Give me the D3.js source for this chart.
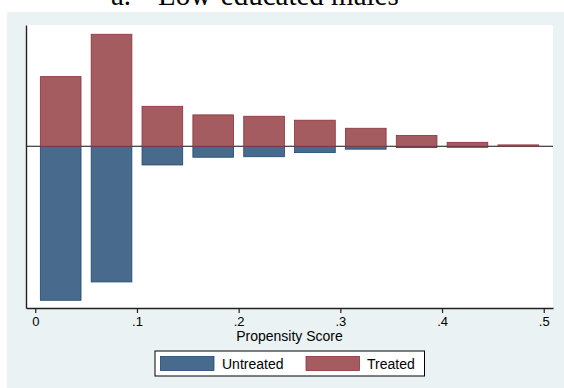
<!DOCTYPE html>
<html>
<head>
<meta charset="utf-8">
<script src="https://cdn.jsdelivr.net/npm/d3@7"></script>
<style>
  html, body { margin: 0; padding: 0; background: #ffffff; }
  svg { display: block; }
</style>
</head>
<body>
<div id="chart"></div>
<script>
// Propensity score bins (centres, width 0.05)
const binCentres = [0.025, 0.075, 0.125, 0.175, 0.225, 0.275, 0.325, 0.375, 0.425, 0.475];
// Densities per bin
const treated   = [4.06, 6.53, 2.33, 1.83, 1.75, 1.52, 1.05, 0.63, 0.23, 0.08];
const untreated = [8.98, 7.91, 1.09, 0.64, 0.61, 0.37, 0.17, 0.08, 0.06, 0.02];
const xTicks = [0, 0.1, 0.2, 0.3, 0.4, 0.5];
const xTickLabels = ["0", ".1", ".2", ".3", ".4", ".5"];
const seriesNames = ["Untreated", "Treated"];

const W = 564, H = 388;
const colors = {
  Untreated: { fill: "#486a8c", stroke: "#1e4670" },
  Treated:   { fill: "#a45c60", stroke: "#8e3038" }
};
const halfBar = 0.02;

const svg = d3.select("#chart").append("svg")
  .attr("width", W).attr("height", H);

// outer graph region
svg.append("rect").attr("x", 7).attr("y", 12).attr("width", W - 7).attr("height", H - 12)
  .attr("fill", "#eaf2f3");

// title
svg.append("text").attr("x", 111).attr("y", 5)
  .attr("font-family", "'Liberation Serif', 'Times New Roman', serif")
  .attr("font-size", 29).attr("fill", "#000").text("a.");
svg.append("text").attr("x", 158).attr("y", 5)
  .attr("font-family", "'Liberation Serif', 'Times New Roman', serif")
  .attr("font-size", 29).attr("fill", "#000").text("Low-educated males");

const plot = { left: 26, right: 553, top: 25, bottom: 308 };

const x = d3.scaleLinear().domain([-0.0091, 0.5091]).range([plot.left, plot.right]);
const y = d3.scaleLinear().domain([-9.43, 7.07]).range([plot.bottom, plot.top]);

// plot region
svg.append("rect").attr("x", plot.left).attr("y", plot.top)
  .attr("width", plot.right - plot.left).attr("height", plot.bottom - plot.top)
  .attr("fill", "#ffffff");

// zero line
svg.append("line")
  .attr("x1", plot.left).attr("x2", plot.right)
  .attr("y1", y(0)).attr("y2", y(0))
  .attr("stroke", "#111").attr("stroke-width", 1.2);

// untreated below zero
svg.append("g").selectAll("rect").data(binCentres.map((c, i) => ({ c, v: untreated[i] })))
  .join("rect")
  .attr("x", d => x(d.c - halfBar))
  .attr("width", d => x(d.c + halfBar) - x(d.c - halfBar))
  .attr("y", y(0))
  .attr("height", d => y(-d.v) - y(0))
  .attr("fill", colors.Untreated.fill)
  .attr("stroke", colors.Untreated.stroke).attr("stroke-width", 0.8);

// treated above zero
svg.append("g").selectAll("rect").data(binCentres.map((c, i) => ({ c, v: treated[i] })))
  .join("rect")
  .attr("x", d => x(d.c - halfBar))
  .attr("width", d => x(d.c + halfBar) - x(d.c - halfBar))
  .attr("y", d => y(d.v))
  .attr("height", d => y(0) - y(d.v))
  .attr("fill", colors.Treated.fill)
  .attr("stroke", colors.Treated.stroke).attr("stroke-width", 0.8);

// axes
const xAxis = d3.axisBottom(x).tickValues(xTicks)
  .tickFormat((d, i) => xTickLabels[i]).tickSize(5).tickSizeOuter(0);
const gx = svg.append("g").attr("transform", `translate(0,${plot.bottom})`).call(xAxis);
gx.select(".domain").attr("stroke", "#222").attr("stroke-width", 1.4);
gx.selectAll(".tick line").attr("stroke", "#222").attr("stroke-width", 1.2);
gx.selectAll(".tick text")
  .attr("font-family", "'Liberation Sans', Arial, sans-serif")
  .attr("font-size", 13).attr("fill", "#000").attr("dy", null).attr("y", 18);

const yAxis = d3.axisLeft(y).tickValues([]).tickSizeOuter(0);
const gy = svg.append("g").attr("transform", `translate(${plot.left},0)`).call(yAxis);
gy.select(".domain").attr("stroke", "#222").attr("stroke-width", 1.4);

svg.append("text")
  .attr("x", (plot.left + plot.right) / 2).attr("y", 340.5)
  .attr("text-anchor", "middle")
  .attr("font-family", "'Liberation Sans', Arial, sans-serif")
  .attr("font-size", 14).attr("fill", "#000")
  .text("Propensity Score");

// legend
const legend = svg.append("g");
legend.append("rect").attr("x", 155).attr("y", 351).attr("width", 269.5).attr("height", 25)
  .attr("fill", "#ffffff").attr("stroke", "#000").attr("stroke-width", 1);
const legendItems = [
  { name: seriesNames[0], sx: 160.5, tx: 222 },
  { name: seriesNames[1], sx: 306, tx: 367 }
];
legendItems.forEach(it => {
  legend.append("rect").attr("x", it.sx).attr("y", 356.5).attr("width", 53.5).attr("height", 14)
    .attr("fill", colors[it.name].fill).attr("stroke", colors[it.name].stroke).attr("stroke-width", 0.8);
  legend.append("text").attr("x", it.tx).attr("y", 369)
    .attr("font-family", "'Liberation Sans', Arial, sans-serif")
    .attr("font-size", 14).attr("fill", "#000").text(it.name);
});
</script>
</body>
</html>
